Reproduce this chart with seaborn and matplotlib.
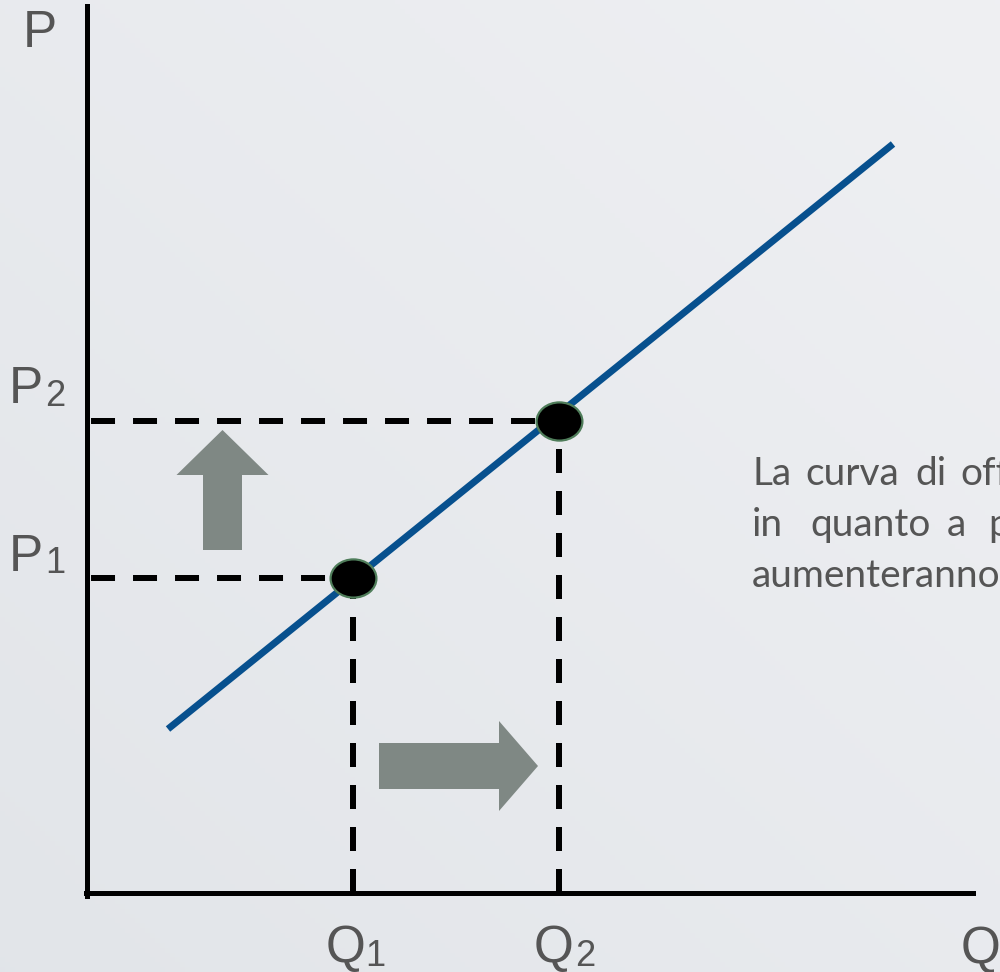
"""Curva di offerta: movimento lungo la curva da (Q1, P1) a (Q2, P2)"""
import seaborn as sns
import matplotlib.pyplot as plt
import numpy as np
from matplotlib.path import Path
from matplotlib.transforms import Affine2D
from matplotlib.markers import MarkerStyle

BLUE, ARROW, LABEL = '#07508e', '#7f8884', '#555555'
EDGE = '#4f7d5a'

# supply curve endpoints (Q, P)
supply_q = [0.81, 8.06]
supply_p = [1.64, 7.49]
# equilibrium points
eq_q = [2.66, 4.72]
eq_p = [3.15, 4.72]
p_labels = ['1', '2']
q_labels = ['1', '2']

sns.set_theme(style='white')
plt.rcParams['font.family'] = ['Liberation Sans', 'DejaVu Sans']

W, H = 1000, 972
fig = plt.figure(figsize=(W / 100, H / 100), dpi=100)
ax = fig.add_axes([0, 0, 1, 1])

# background gradient
gx, gy = np.meshgrid(np.linspace(0, 1, 200), np.linspace(0, 1, 200))
g = 0.5 * gx + 0.5 * (1 - gy)
c0, c1 = np.array([0.886, 0.898, 0.914]), np.array([0.937, 0.941, 0.953])
bg = c0 + (c1 - c0) * g[..., None]
ax.imshow(bg, extent=[0, 1, 0, 1], transform=ax.transAxes, aspect='auto',
          origin='upper', zorder=0)

ax.set_xlim(-0.87, 9.13)
ax.set_ylim(-0.79, 8.93)

for s in ['top', 'right']:
    ax.spines[s].set_visible(False)
for s in ['left', 'bottom']:
    ax.spines[s].set_position(('data', 0))
    ax.spines[s].set_linewidth(3.6)
    ax.spines[s].set_color('black')
    ax.spines[s].set_zorder(3)
ax.spines['left'].set_bounds(-0.03, 8.87)
ax.spines['bottom'].set_bounds(-0.01, 8.86)
ax.set_xticks([])
ax.set_yticks([])

# dashed guide lines
ax.hlines(eq_p, 0, eq_q, colors='black', linewidth=4.32,
          linestyles=[(6.33, (4, 3))], zorder=2)
ax.vlines(eq_q, 0, eq_p, colors='black', linewidth=4.32,
          linestyles=[(0, (4, 3))], zorder=2)

# supply curve
sns.lineplot(x=supply_q, y=supply_p, ax=ax, color=BLUE, linewidth=5,
             solid_capstyle='butt', zorder=4)

# equilibrium points (slightly wide ellipses)
ell = Path.unit_circle().transformed(Affine2D().scale(1.2, 1.0))
sns.scatterplot(x=eq_q, y=eq_p, ax=ax, marker=MarkerStyle(ell), s=33 ** 2,
                color='black', edgecolor=EDGE, linewidth=1.6, zorder=5)

# movement arrows
up_x = 1.355
ax.arrow(up_x, eq_p[0] + 0.28, 0, (eq_p[1] - 0.09) - (eq_p[0] + 0.28),
         width=0.39, head_width=0.92, head_length=0.45,
         length_includes_head=True, color=ARROW, lw=0, zorder=3)
right_y = 1.27
ax.arrow(eq_q[0] + 0.26, right_y, (eq_q[1] - 0.21) - (eq_q[0] + 0.26), 0,
         width=0.46, head_width=0.90, head_length=0.39,
         length_includes_head=True, color=ARROW, lw=0, zorder=3)


def ftext(x, y, s, size, **kw):
    fig.text(x / W, 1 - y / H, s, fontsize=size, color=LABEL,
             ha='left', va='baseline', **kw)


# axis names
ftext(23, 47, 'P', 37)
ftext(961, 963, 'Q', 37)
# price labels
ftext(9, 403, 'P', 37)
ftext(45, 406, p_labels[1], 26)
ftext(9, 571, 'P', 37)
ftext(45, 573, p_labels[0], 26)
# quantity labels
ftext(326, 962, 'Q', 37)
ftext(365, 966, q_labels[0], 26)
ftext(534, 962, 'Q', 37)
ftext(575, 966, q_labels[1], 26)

# side note, justified and cut by the slide edge
note = [
    [('La', 752), ('curva', 805), ('di', 915), ('offerta', 960)],
    [('in', 752), ('quanto', 810), ('a', 947), ('prezzi', 988)],
    [('aumenteranno', 752)],
]
for i, words in enumerate(note):
    for word, x in words:
        ftext(x, 485 + 51 * i, word, 28, family=['Lato', 'DejaVu Sans'])

plt.savefig('out.png', dpi=100)
